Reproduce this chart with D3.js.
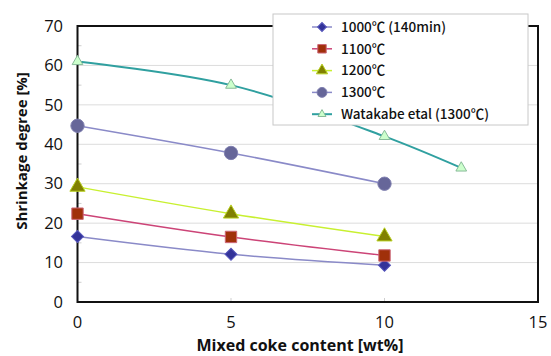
<!DOCTYPE html>
<html>
<head>
  <meta charset='utf-8' />
  <title>Shrinkage degree</title>
  <style>
    html, body { margin: 0; padding: 0; background: #fff; }
    svg { display: block; }
    .tick-label { font: 16.5px 'Open Sans', sans-serif; fill: #111; }
    .axis-title { font: bold 15px 'Open Sans', sans-serif; fill: #111; }
    .x-title { font-size: 16px; }
    .legend-text { font: 500 13.5px 'Noto Sans CJK JP', sans-serif; fill: #111; }
  </style>
</head>
<body>
<div id='chart'></div>
<script src="https://d3js.org/d3.v7.min.js"></script>
<script>
  // values
  const coke = [0, 5, 10]
  const watakabeCoke = [0, 5, 10, 12.5]
  const s1000 = [16.6, 12.1, 9.3]
  const s1100 = [22.4, 16.5, 11.8]
  const s1200 = [29.2, 22.4, 16.6]
  const s1300 = [44.7, 37.8, 30.0]
  const watakabe = [61, 55, 42, 34]
  const labels = ['1000\u2103 (140min)', '1100\u2103', '1200\u2103', '1300\u2103', 'Watakabe etal (1300\u2103)']
  const xTicks = [0, 5, 10, 15]
  const yTicks = [0, 10, 20, 30, 40, 50, 60, 70]

  const series = [
    { name: labels[0], xs: coke, ys: s1000, line: '#8a8ac8', fill: '#333399', stroke: '#5555bb', shape: d3.symbolSquare, size: 72, rot: 45 },
    { name: labels[1], xs: coke, ys: s1100, line: '#cc4477', fill: '#a0300a', stroke: '#cc6677', shape: d3.symbolSquare, size: 130 },
    { name: labels[2], xs: coke, ys: s1200, line: '#c8f030', fill: '#808000', stroke: '#b8d020', shape: d3.symbolTriangle, size: 100 },
    { name: labels[3], xs: coke, ys: s1300, line: '#8a8ac8', fill: '#666699', stroke: '#8080b0', shape: d3.symbolCircle, size: 140 },
    { name: labels[4], xs: watakabeCoke, ys: watakabe, line: '#30a0a0', fill: '#ccffcc', stroke: '#88bb99', shape: d3.symbolTriangle, size: 50, width: 2 }
  ]

  const W = 551, H = 356
  const x = d3.scaleLinear().domain([0, 15]).range([77.5, 538])
  const y = d3.scaleLinear().domain([0, 70]).range([302, 26])

  const svg = d3.select('#chart').append('svg')
    .attr('width', W).attr('height', H)

  // grid
  svg.selectAll('.grid')
    .data(yTicks.slice(1, -1))
    .enter().append('line')
    .attr('x1', x(0)).attr('x2', x(15))
    .attr('y1', d => y(d)).attr('y2', d => y(d))
    .attr('stroke', '#dcdcdc').attr('stroke-width', 1)

  // small inner ticks
  svg.selectAll('.ymin')
    .data(d3.range(5, 70, 10))
    .enter().append('line')
    .attr('x1', x(0)).attr('x2', x(0) + 4)
    .attr('y1', d => y(d)).attr('y2', d => y(d))
    .attr('stroke', '#cfcfcf')
  svg.selectAll('.xmin')
    .data([5, 10])
    .enter().append('line')
    .attr('x1', d => x(d)).attr('x2', d => x(d))
    .attr('y1', y(0)).attr('y2', y(0) - 4)
    .attr('stroke', '#cfcfcf')

  // frame
  svg.append('rect')
    .attr('x', x(0)).attr('y', y(70))
    .attr('width', x(15) - x(0)).attr('height', y(0) - y(70))
    .attr('fill', 'none').attr('stroke', '#111').attr('stroke-width', 2)

  // tick labels
  svg.selectAll('.ylab')
    .data(yTicks)
    .enter().append('text')
    .attr('class', 'tick-label')
    .attr('x', 63).attr('y', d => y(d))
    .attr('dy', '0.35em')
    .attr('text-anchor', 'end')
    .text(d => d)
  svg.selectAll('.xlab')
    .data(xTicks)
    .enter().append('text')
    .attr('class', 'tick-label')
    .attr('x', d => x(d)).attr('y', 328)
    .attr('text-anchor', 'middle')
    .text(d => d)

  svg.append('text').attr('class', 'axis-title x-title')
    .attr('x', 300).attr('y', 351)
    .attr('text-anchor', 'middle')
    .text('Mixed coke content [wt%]')
  svg.append('text').attr('class', 'axis-title')
    .attr('transform', 'translate(27,151) rotate(-90)')
    .attr('text-anchor', 'middle')
    .text('Shrinkage degree [%]')

  const line = d3.line()
    .x(d => x(d[0])).y(d => y(d[1]))
    .curve(d3.curveCatmullRom.alpha(0.5))

  series.forEach(s => {
    const pts = s.xs.map((v, i) => [v, s.ys[i]])
    svg.append('path')
      .attr('d', line(pts))
      .attr('fill', 'none')
      .attr('stroke', s.line)
      .attr('stroke-width', s.width || 1.5)
    svg.selectAll(null)
      .data(pts)
      .enter().append('path')
      .attr('d', d3.symbol().type(s.shape).size(s.size))
      .attr('transform', d => `translate(${x(d[0])},${y(d[1])}) rotate(${s.rot || 0})`)
      .attr('fill', s.fill)
      .attr('stroke', s.stroke)
      .attr('stroke-width', 1)
  })

  // legend
  const lg = svg.append('g').attr('transform', 'translate(273,14)')
  lg.append('rect')
    .attr('width', 255).attr('height', 111)
    .attr('fill', '#fff').attr('stroke', '#c8c8c8')
  series.forEach((s, i) => {
    const cy = 13 + i * 21.8
    lg.append('line')
      .attr('x1', 39).attr('x2', 59)
      .attr('y1', cy).attr('y2', cy)
      .attr('stroke', s.line).attr('stroke-width', s.width || 1.5)
    lg.append('path')
      .attr('d', d3.symbol().type(s.shape).size(s.size * 0.55))
      .attr('transform', `translate(49,${cy}) rotate(${s.rot || 0})`)
      .attr('fill', s.fill).attr('stroke', s.stroke)
    lg.append('text').attr('class', 'legend-text')
      .attr('x', 68).attr('y', cy).attr('dy', '0.36em')
      .text(s.name)
  })
</script>
</body>
</html>
